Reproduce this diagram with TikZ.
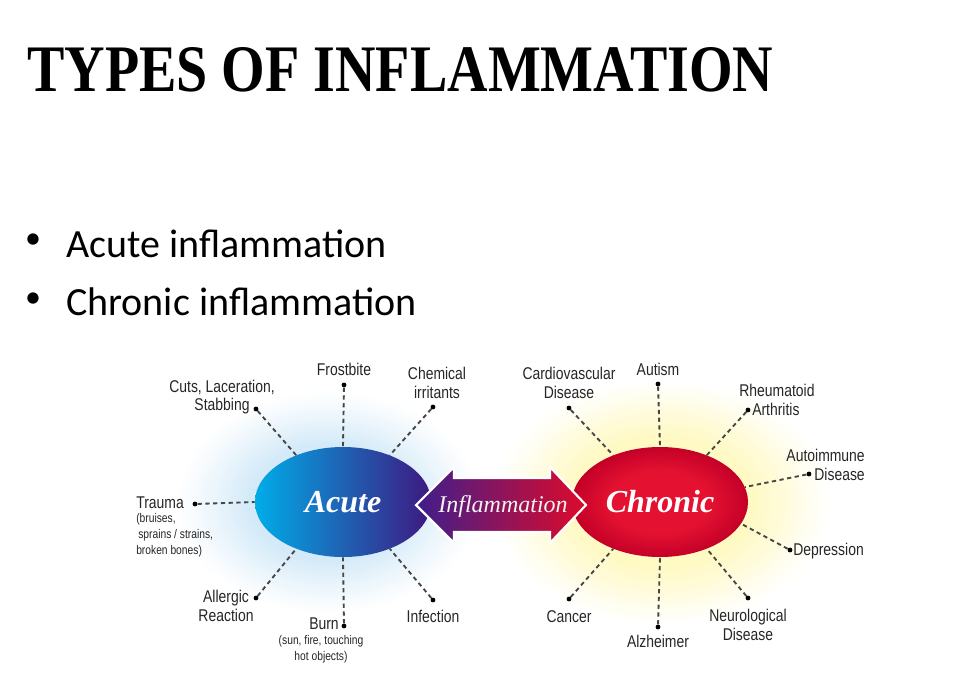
\documentclass[tikz,border=0pt]{standalone}
\usepackage{fontspec}
\usepackage{graphicx}
\setmainfont{Liberation Serif}
\newfontfamily\bodyfont{Carlito}
\newfontfamily\narrowfont[FakeStretch=0.82]{Liberation Sans}
\usetikzlibrary{shapes.geometric,positioning}
\usepackage{xcolor}
\definecolor{acuteleft}{RGB}{0,172,232}
\definecolor{acutemid}{RGB}{28,88,190}
\definecolor{acuteright}{RGB}{62,24,128}
\definecolor{chronicin}{RGB}{228,18,48}
\definecolor{chronicout}{RGB}{196,0,40}
\definecolor{flowleft}{RGB}{62,30,140}
\definecolor{flowright}{RGB}{222,10,42}
\definecolor{glowblue}{RGB}{212,234,248}
\definecolor{glowyellow}{RGB}{255,249,195}
\definecolor{labelgray}{RGB}{38,38,38}
\pgfdeclareradialshading{glowacute}{\pgfpoint{0bp}{0bp}}{color(0bp)=(glowblue); color(13bp)=(glowblue); color(18bp)=(glowblue!55); color(22bp)=(glowblue!20); color(25bp)=(white); color(50bp)=(white)}
\pgfdeclareradialshading{glowchronic}{\pgfpoint{0bp}{0bp}}{color(0bp)=(glowyellow); color(13bp)=(glowyellow); color(18bp)=(glowyellow!60); color(22bp)=(glowyellow!22); color(25bp)=(white); color(50bp)=(white)}
\pgfdeclareradialshading{redball}{\pgfpoint{0bp}{0bp}}{color(0bp)=(chronicin); color(14bp)=(chronicin); color(25bp)=(chronicout); color(50bp)=(chronicout)}

\begin{document}
\begin{tikzpicture}[
  x=0.75pt, y=-0.75pt,
  lbl/.style={font=\narrowfont\fontsize{12.75pt}{14pt}\selectfont, text=labelgray,
              inner sep=0pt, align=center},
  sublbl/.style={font=\narrowfont\fontsize{9.4pt}{12pt}\selectfont, text=labelgray,
                 inner sep=0pt, align=center},
  hub/.style={ellipse, minimum width=132pt, minimum height=82.5pt, inner sep=0pt,
              font=\bfseries\itshape\fontsize{24pt}{24pt}\selectfont, text=white},
  dotmark/.style={circle, fill=black, inner sep=0pt, minimum size=3.6pt},
  spoke/.style={draw=gray!55!black, line width=1.4pt, dash pattern=on 3.2pt off 2.6pt},
  item/.style={font=\bodyfont\fontsize{30pt}{30pt}\selectfont, inner sep=0pt},
  bulletmark/.style={font=\bodyfont\fontsize{24pt}{24pt}\selectfont, inner sep=0pt}
]
\fill[white] (0,0) rectangle (968,694);
\useasboundingbox (0,0) rectangle (968,694);

% title and bullets
\node[anchor=south west, inner sep=0pt] (title) at (27,92)
  {\resizebox{559.5pt}{33pt}{\textbf{TYPES OF INFLAMMATION}}};
\node[bulletmark] (b1) at (33,241) {\textbullet};
\node[item, anchor=base west] (acutetext) at (66,257) {Acute inflammation};
\node[bulletmark] (b2) at (33,300) {\textbullet};
\node[item, anchor=base west] (chronictext) at (66,315) {Chronic inflammation};

% glows
\shade[shading=glowacute] (328,502) ellipse (152 and 112);
\shade[shading=glowchronic] (662,502) ellipse (170 and 124);

% hubs
\node[hub, left color=acuteleft, middle color=acutemid, right color=acuteright]
  (acute) at (343,502) {Acute};
\node[hub, shading=redball] (chronic) at (660,502) {Chronic};

% double arrow
\path[draw=white, line width=1.6pt, left color=flowleft, right color=flowright]
  (416,505) -- (454,467) -- (454,478) -- (550,478) -- (550,467) -- (586,505)
  -- (550,543) -- (550,532) -- (454,532) -- (454,543) -- cycle;
\node[font=\itshape\fontsize{18pt}{18pt}\selectfont, text=white!90!gray, inner sep=0pt,
  anchor=base] (flow) at (503,512) {Inflammation};

% acute causes
\node[dotmark] (dfrost)    at (344,385) {};
\node[dotmark] (dchem)     at (433,407) {};
\node[dotmark] (dcuts)     at (256,409) {};
\node[dotmark] (dtrauma)   at (195,504) {};
\node[dotmark] (dallergic) at (256,598) {};
\node[dotmark] (dburn)     at (344,626) {};
\node[dotmark] (dinfect)   at (433,600) {};

\node[lbl] (tfrost) at (344,369) {Frostbite};
\node[lbl] (tchem) at (437,383) {Chemical\\irritants};
\node[lbl] (tcuts) at (222,397) {Cuts, Laceration,\\Stabbing};
\node[lbl, anchor=west] (ttrauma) at (136,503) {Trauma};
\node[sublbl, align=left, anchor=north west] (ttraumasub) at (136,513)
  {(bruises,\\\hspace*{1.5pt}sprains / strains,\\broken bones)};
\node[lbl] (tallergic) at (226,606) {Allergic\\Reaction};
\node[lbl, anchor=east] (tburn) at (339,624) {Burn};
\node[sublbl] (tburnsub) at (321,649) {(sun, fire, touching\\hot objects)};
\node[lbl] (tinfect) at (433,616) {Infection};

% chronic conditions
\node[dotmark] (dautism) at (658,384) {};
\node[dotmark] (dcardio) at (569,408) {};
\node[dotmark] (drheum)  at (748,410) {};
\node[dotmark] (dauto)   at (809,474) {};
\node[dotmark] (ddep)    at (790,550) {};
\node[dotmark] (dneuro)  at (748,598) {};
\node[dotmark] (dalz)    at (658,627) {};
\node[dotmark] (dcancer) at (569,599) {};

\node[lbl] (tautism) at (658,369) {Autism};
\node[lbl] (tcardio) at (569,383) {Cardiovascular\\Disease};
\node[lbl] (trheum) at (777,390) {Rheumatoid};
\node[lbl, anchor=west] (tarth) at (752,409) {Arthritis};
\node[lbl, align=right, anchor=east] (tauto) at (865,465) {Autoimmune\\Disease};
\node[lbl, anchor=west] (tdep) at (793,551) {Depression};
\node[lbl] (tneuro) at (748,625) {Neurological\\Disease};
\node[lbl] (talz) at (658,641) {Alzheimer};
\node[lbl] (tcancer) at (569,617) {Cancer};

\foreach \from/\to in {dfrost/acute.90, dchem/acute.45, dcuts/acute.135,
    dtrauma/acute.180, dallergic/acute.225, dburn/acute.270, dinfect/acute.315,
    dautism/chronic.90, dcardio/chronic.135, drheum/chronic.45, dauto/chronic.10,
    ddep/chronic.-15, dneuro/chronic.315, dalz/chronic.270, dcancer/chronic.225}
  \draw[spoke] (\from) -- (\to);
\end{tikzpicture}
\end{document}
